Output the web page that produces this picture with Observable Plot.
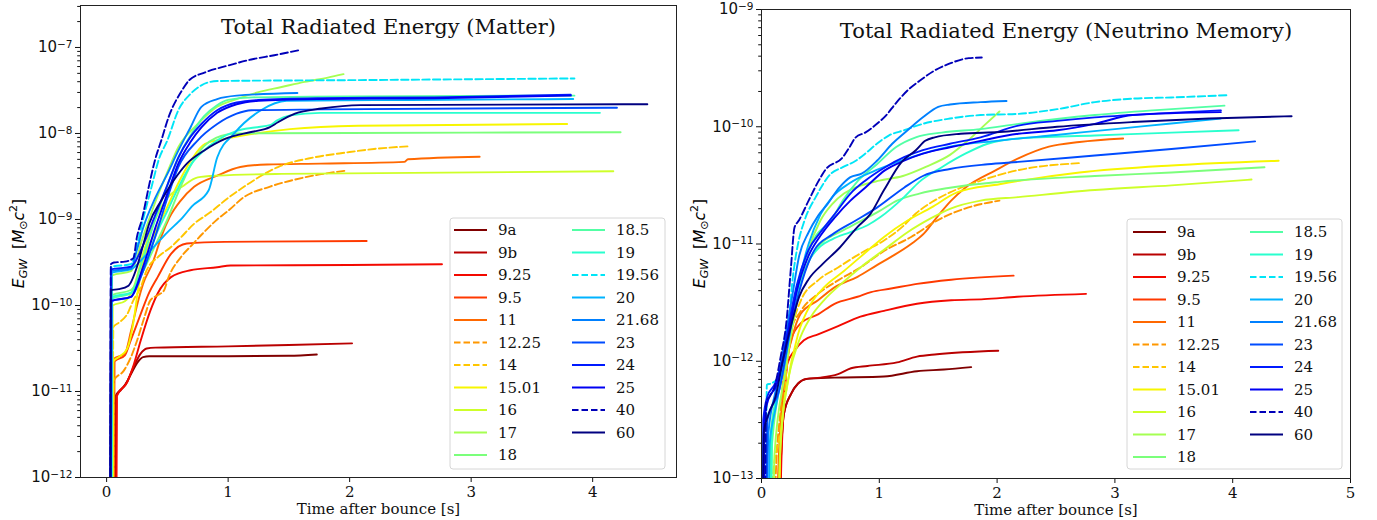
<!DOCTYPE html>
<html><head><meta charset="utf-8">
<script src="https://cdn.jsdelivr.net/npm/d3@7"></script>
<script src="https://cdn.jsdelivr.net/npm/@observablehq/plot@0.6"></script>
<style>
body{margin:0;background:#fff;}
#wrap{position:relative;width:1377px;height:520px;overflow:hidden;background:#fff;}
.panel{position:absolute;top:0;}
.ytitle{position:absolute;font-family:"DejaVu Sans";font-size:15.5px;white-space:nowrap;transform-origin:center center;}
.ytitle sub{font-size:11px;vertical-align:-3px;}
.ytitle sup{font-size:11px;vertical-align:7px;}
</style></head><body><div id="wrap"></div>
<script>
// Model labels (legend order) and which ones are dashed
const labels = ["9a","9b","9.25","9.5","11","12.25","14","15.01","16","17","18","18.5","19","19.56","20","21.68","23","24","25","40","60"];
const dashedLabels = ["12.25","14","19.56","40"];
const xTicksMatter = [0,1,2,3,4];
const xTicksNu = [0,1,2,3,4,5];
const yExpMatter = [-12,-11,-10,-9,-8,-7];
const yExpNu = [-13,-12,-11,-10,-9];

// ---- Matter panel: [time after bounce (s), log10 E_GW] ----
const m9a = [[0.07,-12.6],[0.075,-11.05],[0.1,-11.0],[0.15,-10.93],[0.2,-10.8],[0.25,-10.67],[0.3,-10.6],[0.35,-10.59],[1.0,-10.59],[1.5,-10.585],[1.73,-10.57]];
const m9b = [[0.075,-12.6],[0.08,-11.05],[0.12,-10.98],[0.17,-10.88],[0.22,-10.72],[0.28,-10.56],[0.33,-10.5],[0.4,-10.49],[1.0,-10.475],[1.5,-10.46],[2.02,-10.44]];
const m9p25 = [[0.08,-12.6],[0.085,-11.05],[0.17,-10.89],[0.225,-10.68],[0.28,-10.41],[0.36,-10.06],[0.42,-9.86],[0.53,-9.67],[0.69,-9.59],[0.91,-9.555],[1.02,-9.535],[2.0,-9.53],[2.76,-9.52]];
const m9p5 = [[0.06,-12.6],[0.065,-10.65],[0.15,-10.58],[0.2,-10.4],[0.28,-10.1],[0.35,-9.85],[0.42,-9.67],[0.53,-9.4],[0.66,-9.28],[0.97,-9.26],[2.14,-9.25]];
const m11 = [[0.055,-12.6],[0.06,-10.62],[0.15,-10.56],[0.2,-10.3],[0.25,-10.0],[0.3,-9.75],[0.38,-9.5],[0.45,-9.2],[0.52,-8.97],[0.61,-8.78],[0.72,-8.62],[0.91,-8.49],[1.1,-8.39],[1.32,-8.36],[1.76,-8.35],[2.45,-8.33],[2.48,-8.3],[3.07,-8.27]];
const m12p25 = [[0.055,-12.6],[0.06,-10.87],[0.14,-10.76],[0.2,-10.6],[0.25,-10.41],[0.31,-10.14],[0.36,-9.94],[0.42,-9.88],[0.47,-9.83],[0.51,-9.67],[0.61,-9.44],[0.7,-9.3],[0.8,-9.15],[0.91,-9.0],[1.0,-8.9],[1.13,-8.74],[1.34,-8.62],[1.63,-8.51],[1.98,-8.43]];
const m14 = [[0.05,-12.6],[0.055,-10.25],[0.1,-10.2],[0.17,-10.1],[0.22,-9.94],[0.28,-9.79],[0.33,-9.59],[0.42,-9.44],[0.53,-9.32],[0.61,-9.21],[0.72,-9.05],[0.85,-8.92],[1.0,-8.75],[1.13,-8.62],[1.41,-8.39],[1.7,-8.28],[1.98,-8.22],[2.2,-8.18],[2.48,-8.15]];
const m15p01 = [[0.05,-12.6],[0.055,-10.65],[0.1,-10.6],[0.17,-10.5],[0.22,-10.2],[0.26,-9.8],[0.3,-9.5],[0.4,-9.15],[0.5,-8.85],[0.6,-8.55],[0.7,-8.3],[0.81,-8.12],[1.06,-8.04],[1.51,-7.95],[2.07,-7.91],[3.79,-7.89]];
const m16 = [[0.045,-12.6],[0.05,-10.0],[0.15,-9.95],[0.22,-9.8],[0.3,-9.4],[0.4,-9.0],[0.5,-8.75],[0.62,-8.62],[0.75,-8.51],[0.91,-8.49],[1.44,-8.47],[4.17,-8.44]];
const m17 = [[0.04,-12.6],[0.045,-9.65],[0.2,-9.6],[0.3,-9.2],[0.4,-8.8],[0.5,-8.45],[0.59,-8.16],[0.75,-7.89],[0.91,-7.69],[1.07,-7.6],[1.25,-7.52],[1.44,-7.46],[1.63,-7.4],[1.82,-7.35],[1.95,-7.31]];
const m18 = [[0.04,-12.6],[0.045,-9.88],[0.2,-9.82],[0.3,-9.6],[0.4,-9.3],[0.5,-9.0],[0.6,-8.65],[0.7,-8.35],[0.8,-8.15],[0.9,-8.05],[1.07,-8.0],[2.0,-7.995],[4.23,-7.985]];
const m18p5 = [[0.04,-12.6],[0.045,-9.92],[0.2,-9.86],[0.3,-9.45],[0.4,-9.0],[0.5,-8.6],[0.6,-8.25],[0.7,-8.0],[0.8,-7.8],[0.9,-7.68],[1.0,-7.61],[1.2,-7.58],[2.0,-7.57],[3.85,-7.56]];
const m19 = [[0.04,-12.6],[0.045,-9.9],[0.2,-9.85],[0.3,-9.6],[0.4,-9.2],[0.5,-8.9],[0.6,-8.6],[0.7,-8.35],[0.8,-8.2],[0.91,-8.08],[1.07,-7.97],[1.22,-7.93],[1.35,-7.9],[1.4,-7.85],[1.51,-7.79],[1.76,-7.76],[4.06,-7.76]];
const m19p56 = [[0.035,-12.6],[0.04,-9.55],[0.2,-9.52],[0.25,-9.3],[0.3,-9.0],[0.37,-8.62],[0.43,-8.3],[0.5,-8.08],[0.59,-7.73],[0.69,-7.54],[0.78,-7.44],[0.91,-7.39],[2.0,-7.38],[3.85,-7.36]];
const m20 = [[0.035,-12.6],[0.04,-9.62],[0.2,-9.58],[0.3,-9.45],[0.4,-9.3],[0.5,-9.15],[0.63,-8.97],[0.7,-8.85],[0.84,-8.66],[0.91,-8.28],[1.05,-8.0],[1.27,-7.73],[1.48,-7.62],[2.5,-7.61],[3.84,-7.6]];
const m21p68 = [[0.035,-12.6],[0.04,-9.6],[0.2,-9.57],[0.25,-9.35],[0.3,-9.1],[0.4,-8.75],[0.5,-8.47],[0.59,-8.2],[0.69,-7.93],[0.78,-7.69],[0.91,-7.6],[1.07,-7.56],[1.57,-7.53]];
const m23 = [[0.035,-12.6],[0.04,-9.95],[0.2,-9.9],[0.3,-9.6],[0.4,-9.2],[0.5,-8.75],[0.59,-8.39],[0.75,-8.08],[0.91,-7.89],[1.07,-7.77],[1.19,-7.73],[1.76,-7.72],[4.2,-7.7]];
const m24 = [[0.03,-12.6],[0.035,-9.58],[0.2,-9.55],[0.3,-9.3],[0.4,-8.95],[0.5,-8.6],[0.59,-8.28],[0.69,-8.04],[0.78,-7.89],[0.91,-7.73],[1.07,-7.64],[1.25,-7.61],[1.76,-7.59],[2.7,-7.58],[3.82,-7.55]];
const m25 = [[0.03,-12.6],[0.035,-9.95],[0.2,-9.9],[0.3,-9.55],[0.4,-9.1],[0.5,-8.7],[0.59,-8.35],[0.69,-8.1],[0.78,-7.93],[0.91,-7.76],[1.07,-7.66],[1.25,-7.62],[1.76,-7.6],[2.7,-7.59],[3.82,-7.56]];
const m40 = [[0.03,-12.6],[0.035,-9.52],[0.06,-9.5],[0.15,-9.49],[0.22,-9.45],[0.25,-9.2],[0.29,-9.0],[0.35,-8.6],[0.4,-8.3],[0.45,-8.08],[0.51,-7.81],[0.62,-7.5],[0.68,-7.38],[0.81,-7.29],[1.0,-7.21],[1.19,-7.14],[1.38,-7.09],[1.59,-7.03]];
const m60 = [[0.03,-12.6],[0.035,-9.82],[0.1,-9.81],[0.18,-9.77],[0.25,-9.55],[0.3,-9.3],[0.35,-9.05],[0.45,-8.78],[0.55,-8.55],[0.66,-8.35],[0.8,-8.2],[0.98,-8.06],[1.2,-7.98],[1.34,-7.93],[1.41,-7.87],[1.55,-7.77],[1.77,-7.71],[2.09,-7.67],[4.45,-7.66]];

// ---- Neutrino memory panel: [time after bounce (s), log10 E_GW] ----
const n9a = [[0.15,-13.5],[0.16,-13.0],[0.19,-12.45],[0.25,-12.28],[0.31,-12.19],[0.39,-12.15],[0.62,-12.14],[1.04,-12.13],[1.32,-12.085],[1.55,-12.07],[1.78,-12.05]];
const n9b = [[0.15,-13.5],[0.16,-13.0],[0.19,-12.45],[0.25,-12.28],[0.31,-12.19],[0.38,-12.15],[0.5,-12.14],[0.65,-12.11],[0.76,-12.06],[0.9,-12.04],[1.15,-12.01],[1.32,-11.96],[1.49,-11.94],[2.01,-11.91]];
const n9p25 = [[0.16,-13.5],[0.165,-13.0],[0.19,-12.4],[0.22,-12.02],[0.28,-11.91],[0.36,-11.82],[0.48,-11.77],[0.65,-11.7],[0.84,-11.62],[1.04,-11.57],[1.32,-11.51],[1.61,-11.48],[1.89,-11.47],[2.17,-11.45],[2.755,-11.425]];
const n9p5 = [[0.14,-13.5],[0.15,-13.0],[0.2,-12.2],[0.25,-11.82],[0.33,-11.68],[0.48,-11.6],[0.62,-11.51],[0.815,-11.45],[0.93,-11.41],[1.1,-11.38],[1.32,-11.34],[1.61,-11.305],[2.14,-11.27]];
const n11 = [[0.13,-13.5],[0.14,-13.0],[0.2,-12.1],[0.26,-11.8],[0.33,-11.6],[0.48,-11.48],[0.62,-11.37],[0.815,-11.28],[0.98,-11.18],[1.1,-11.11],[1.27,-11.0],[1.38,-10.91],[1.49,-10.77],[1.61,-10.63],[1.73,-10.52],[1.99,-10.37],[2.18,-10.27],[2.44,-10.17],[2.7,-10.13],[3.07,-10.1]];
const n12p25 = [[0.11,-13.5],[0.12,-13.0],[0.165,-12.39],[0.22,-11.82],[0.335,-11.57],[0.48,-11.425],[0.65,-11.31],[0.84,-11.2],[1.04,-11.06],[1.27,-10.94],[1.49,-10.8],[1.72,-10.7],[2.02,-10.63]];
const n14 = [[0.09,-13.5],[0.095,-13.0],[0.18,-12.48],[0.22,-12.0],[0.335,-11.48],[0.48,-11.31],[0.65,-11.2],[0.84,-11.08],[1.04,-10.97],[1.2,-10.85],[1.31,-10.74],[1.45,-10.64],[1.6,-10.56],[1.86,-10.46],[2.18,-10.37],[2.7,-10.31]];
const n15p01 = [[0.15,-13.5],[0.155,-13.0],[0.165,-12.62],[0.22,-12.19],[0.31,-11.77],[0.42,-11.51],[0.53,-11.37],[0.7,-11.23],[0.84,-11.11],[1.04,-10.94],[1.24,-10.8],[1.44,-10.69],[1.66,-10.56],[2.02,-10.49],[2.7,-10.39],[3.48,-10.33],[4.39,-10.29]];
const n16 = [[0.14,-13.5],[0.15,-13.0],[0.17,-12.6],[0.22,-12.2],[0.31,-11.85],[0.42,-11.62],[0.53,-11.48],[0.7,-11.32],[0.84,-11.2],[1.04,-11.05],[1.24,-10.9],[1.44,-10.78],[1.6,-10.7],[1.86,-10.63],[2.18,-10.6],[2.83,-10.54],[3.48,-10.5],[4.16,-10.45]];
const n17 = [[0.1,-13.5],[0.11,-12.8],[0.2,-12.1],[0.3,-11.5],[0.4,-11.05],[0.5,-10.8],[0.6,-10.66],[0.7,-10.57],[0.85,-10.5],[1.0,-10.46],[1.2,-10.42],[1.4,-10.34],[1.6,-10.24],[1.75,-10.12],[1.9,-9.98],[2.02,-9.87]];
const n18 = [[0.08,-13.5],[0.09,-12.7],[0.2,-12.0],[0.3,-11.45],[0.4,-11.15],[0.5,-11.0],[0.6,-10.93],[0.7,-10.88],[0.85,-10.8],[1.0,-10.72],[1.15,-10.63],[1.34,-10.57],[1.6,-10.52],[2.02,-10.47],[2.83,-10.42],[3.48,-10.39],[4.27,-10.345]];
const n18p5 = [[0.07,-13.5],[0.08,-12.6],[0.15,-12.2],[0.25,-11.6],[0.35,-11.2],[0.45,-10.95],[0.59,-10.8],[0.69,-10.63],[0.82,-10.46],[0.98,-10.32],[1.14,-10.175],[1.31,-10.09],[1.53,-10.05],[1.86,-10.02],[2.18,-9.975],[2.83,-9.9],[3.32,-9.86],[3.93,-9.82]];
const n19 = [[0.08,-13.5],[0.09,-12.6],[0.2,-12.0],[0.3,-11.45],[0.4,-11.15],[0.5,-11.02],[0.6,-10.96],[0.75,-10.9],[0.9,-10.84],[1.01,-10.77],[1.21,-10.6],[1.34,-10.47],[1.53,-10.345],[1.73,-10.23],[1.92,-10.145],[2.18,-10.1],[2.83,-10.075],[3.48,-10.05],[4.05,-10.03]];
const n19p56 = [[0.04,-13.5],[0.045,-12.2],[0.08,-12.19],[0.165,-12.11],[0.22,-11.82],[0.26,-11.34],[0.31,-11.0],[0.365,-10.8],[0.46,-10.6],[0.59,-10.4],[0.69,-10.345],[0.8,-10.29],[0.88,-10.23],[0.98,-10.145],[1.08,-10.075],[1.21,-10.03],[1.37,-9.975],[1.6,-9.93],[1.86,-9.9],[2.18,-9.89],[2.51,-9.85],[2.83,-9.79],[3.15,-9.76],[3.48,-9.75],[3.97,-9.73]];
const n20 = [[0.06,-13.5],[0.07,-12.7],[0.12,-12.4],[0.2,-12.0],[0.3,-11.4],[0.4,-11.0],[0.5,-10.75],[0.6,-10.6],[0.75,-10.48],[1.0,-10.36],[1.3,-10.25],[1.6,-10.17],[2.0,-10.12],[2.5,-10.07],[3.0,-10.02],[3.5,-9.97],[3.9,-9.93]];
const n21p68 = [[0.04,-13.5],[0.06,-12.6],[0.12,-12.25],[0.2,-11.8],[0.26,-11.45],[0.32,-11.1],[0.4,-10.9],[0.48,-10.76],[0.56,-10.66],[0.66,-10.52],[0.755,-10.43],[0.85,-10.4],[0.98,-10.29],[1.11,-10.145],[1.24,-10.03],[1.37,-9.92],[1.5,-9.83],[1.6,-9.81],[1.86,-9.79],[2.08,-9.78]];
const n23 = [[0.04,-13.5],[0.05,-12.5],[0.15,-12.25],[0.25,-11.7],[0.35,-11.3],[0.45,-11.05],[0.6,-10.92],[0.8,-10.8],[0.98,-10.69],[1.21,-10.52],[1.37,-10.42],[1.6,-10.36],[1.92,-10.32],[2.18,-10.3],[2.83,-10.245],[3.48,-10.19],[4.19,-10.125]];
const n24 = [[0.01,-13.5],[0.015,-12.5],[0.05,-12.3],[0.11,-12.2],[0.165,-12.05],[0.22,-11.75],[0.3,-11.35],[0.4,-11.05],[0.5,-10.9],[0.625,-10.74],[0.755,-10.57],[0.88,-10.46],[1.05,-10.345],[1.21,-10.26],[1.37,-10.2],[1.6,-10.145],[1.86,-10.09],[2.18,-9.99],[2.51,-9.95],[2.83,-9.92],[3.3,-9.89],[3.9,-9.86]];
const n25 = [[0.02,-13.5],[0.025,-12.5],[0.06,-12.32],[0.12,-12.22],[0.18,-12.0],[0.24,-11.7],[0.3,-11.4],[0.4,-11.1],[0.5,-10.93],[0.625,-10.77],[0.755,-10.63],[0.88,-10.52],[1.05,-10.37],[1.21,-10.29],[1.37,-10.23],[1.6,-10.175],[1.86,-10.12],[2.18,-10.06],[2.51,-10.03],[2.83,-9.975],[3.15,-9.9],[3.9,-9.875]];
const n40 = [[0.03,-13.5],[0.04,-12.35],[0.07,-12.3],[0.11,-12.22],[0.165,-11.95],[0.21,-11.68],[0.25,-11.2],[0.28,-10.86],[0.317,-10.8],[0.4,-10.63],[0.48,-10.47],[0.54,-10.37],[0.69,-10.26],[0.75,-10.17],[0.8,-10.09],[0.88,-10.05],[0.98,-9.975],[1.06,-9.9],[1.14,-9.8],[1.24,-9.69],[1.34,-9.61],[1.47,-9.52],[1.6,-9.46],[1.76,-9.415],[1.87,-9.41]];
const n60 = [[0.01,-13.5],[0.02,-12.6],[0.06,-12.45],[0.12,-12.3],[0.18,-12.0],[0.25,-11.7],[0.32,-11.45],[0.4,-11.3],[0.52,-11.17],[0.665,-11.03],[0.81,-10.86],[0.92,-10.75],[1.04,-10.54],[1.19,-10.3],[1.31,-10.2],[1.39,-10.12],[1.47,-10.09],[1.69,-10.06],[2.02,-10.045],[2.51,-10.0],[3.15,-9.96],[3.8,-9.93],[4.5,-9.91]];

const matterSeries = [m9a,m9b,m9p25,m9p5,m11,m12p25,m14,m15p01,m16,m17,m18,m18p5,m19,m19p56,m20,m21p68,m23,m24,m25,m40,m60];
const nuSeries = [n9a,n9b,n9p25,n9p5,n11,n12p25,n14,n15p01,n16,n17,n18,n18p5,n19,n19p56,n20,n21p68,n23,n24,n25,n40,n60];

// jet colormap (matplotlib), reversed over the models
function seg(x, pts){ for(let i=1;i<pts.length;i++){ if(x<=pts[i][0]){const [x0,y0]=pts[i-1],[x1,y1]=pts[i]; return y0+(y1-y0)*(x-x0)/(x1-x0);} } return pts[pts.length-1][1]; }
function jet(x){
  const r = seg(x,[[0,0],[0.35,0],[0.66,1],[0.89,1],[1,0.5]]);
  const g = seg(x,[[0,0],[0.125,0],[0.375,1],[0.64,1],[0.91,0],[1,0]]);
  const b = seg(x,[[0,0.5],[0.11,1],[0.34,1],[0.65,0],[1,0]]);
  return d3.rgb(r*255,g*255,b*255).formatHex();
}
const colors = labels.map((_,i)=>jet(1 - i/(labels.length-1)));
const dashArr = "7.4,3.2";
const expLabel = e => "10^" + String(Math.round(Math.log10(e)));

function minorTicks(lo, hi){ const out=[]; for(let k=lo;k<hi;k++){ for(let m=2;m<=9;m++){ out.push(m*10**k);} } return out; }

function makePanel(cfg){
  const marks = [
    Plot.axisX({ticks: cfg.xticks, tickSize:5, tickPadding:4, tickFormat:d=>String(d), fontSize:15, label:null}),
    Plot.axisY({ticks: cfg.yexp.map(k=>10**k), tickSize:5, tickPadding:3, tickFormat: expLabel, fontSize:15, label:null}),
    Plot.axisY({ticks: cfg.minor, tickSize:2.8, tickFormat: ()=>"", label:null}),
  ];
  cfg.series.forEach((arr,i)=>{
    marks.push(Plot.line(arr, {x:d=>d[0], y:d=>10**d[1], stroke: colors[i], strokeWidth:1.9,
      strokeDasharray: dashedLabels.includes(labels[i]) ? dashArr : null, clip:true, curve:"monotone-x"}));
  });
  marks.push(Plot.frame({stroke:"#222", strokeWidth:1}));
  marks.push(Plot.text([cfg.title], {frameAnchor:"top", dy:22, dx:10, fontSize:21, lineAnchor:"middle", fill:"#111"}));
  marks.push(Plot.text(["Time after bounce [s]"], {frameAnchor:"bottom", dy:32, fontSize:15, lineAnchor:"middle", fill:"#111"}));
  const svg = Plot.plot({
    width: cfg.width, height: 520,
    marginLeft: cfg.ml, marginRight: cfg.mr, marginTop: cfg.mt, marginBottom: cfg.mb,
    x: {domain: cfg.xdom},
    y: {type:"log", domain: cfg.ydom},
    style: {background:"#fff", color:"#111", fontFamily:"'DejaVu Serif', serif", fontSize:"15px"},
    marks
  });
  // render y tick labels as 10 with raised exponent (mathtext style)
  svg.querySelectorAll("text").forEach(t=>{
    const s = t.textContent;
    if (/^10\^-?\d+$/.test(s)) {
      const ex = s.split("^")[1].replace("-","\u2212");
      t.textContent = "";
      t.setAttribute("font-family","'DejaVu Sans', sans-serif");
      const a = document.createElementNS("http://www.w3.org/2000/svg","tspan"); a.textContent="10";
      const b = document.createElementNS("http://www.w3.org/2000/svg","tspan"); b.textContent=ex;
      b.setAttribute("dy","-0.45em"); b.setAttribute("font-size","10.5px");
      t.appendChild(a); t.appendChild(b);
    }
  });
  return svg;
}

function legendSvg(box){
  const ns="http://www.w3.org/2000/svg";
  const svg=document.createElementNS(ns,"svg");
  svg.setAttribute("width", box.w+2); svg.setAttribute("height", box.h+2);
  svg.style.position="absolute"; svg.style.left=(box.x-1)+"px"; svg.style.top=(box.y-1)+"px";
  const r=document.createElementNS(ns,"rect");
  r.setAttribute("x",1);r.setAttribute("y",1);r.setAttribute("width",box.w);r.setAttribute("height",box.h);
  r.setAttribute("rx",3);r.setAttribute("fill","#fff");r.setAttribute("fill-opacity",0.85);r.setAttribute("stroke","#d6d6d6");
  svg.appendChild(r);
  labels.forEach((lab,i)=>{
    const col = i<11?0:1, row = i<11?i:i-11;
    const cy = 1 + box.row0 + row*22.5;
    const lx = 1 + (col? box.c2:box.c1);
    const ln=document.createElementNS(ns,"line");
    ln.setAttribute("x1",lx);ln.setAttribute("x2",lx+33);ln.setAttribute("y1",cy);ln.setAttribute("y2",cy);
    ln.setAttribute("stroke",colors[i]);ln.setAttribute("stroke-width",2);
    if(dashedLabels.includes(lab)) ln.setAttribute("stroke-dasharray","6.5,3");
    svg.appendChild(ln);
    const t=document.createElementNS(ns,"text");
    t.setAttribute("x",lx+44);t.setAttribute("y",cy);t.setAttribute("dy","0.35em");
    t.setAttribute("style","font-family:'DejaVu Serif',serif;font-size:15px;fill:#111");
    t.textContent=lab; svg.appendChild(t);
  });
  return svg;
}

const wrap=document.getElementById("wrap");
function addPanel(left, width, svg, legendBox, ytX){
  const div=document.createElement("div"); div.className="panel"; div.style.left=left+"px"; div.style.width=width+"px"; div.style.height="520px";
  div.appendChild(svg);
  div.appendChild(legendSvg(legendBox));
  const yt=document.createElement("div"); yt.className="ytitle";
  yt.innerHTML='<i>E</i><sub><i>GW</i></sub>&nbsp;&nbsp;[<i>M</i><sub>⊙</sub><i>c</i><sup>2</sup>]';
  div.appendChild(yt);
  wrap.appendChild(div);
  const w=yt.offsetWidth, h=yt.offsetHeight;
  yt.style.left=(ytX - w/2)+"px"; yt.style.top=(243 - h/2)+"px"; yt.style.transform="rotate(-90deg)";
}

const left = makePanel({width:690, ml:80, mr:14, mt:5, mb:43, xdom:[-0.215,4.69], ydom:[1e-12, 10**-6.512],
  xticks:xTicksMatter, yexp:yExpMatter, minor:minorTicks(-12,-6).filter(v=>v<=10**-6.512), series:matterSeries,
  title:"Total Radiated Energy (Matter)"});
addPanel(0, 690, left, {x:450,y:218,w:215,h:251,row0:12,c1:4,c2:122}, 18);

const right = makePanel({width:687, ml:71, mr:27, mt:9, mb:42, xdom:[0,5], ydom:[1e-13,1e-9],
  xticks:xTicksNu, yexp:yExpNu, minor:minorTicks(-13,-9), series:nuSeries,
  title:"Total Radiated Energy (Neutrino Memory)"});
addPanel(690, 687, right, {x:437,y:219,w:215,h:250,row0:13,c1:6,c2:123}, 9);
</script></body></html>
